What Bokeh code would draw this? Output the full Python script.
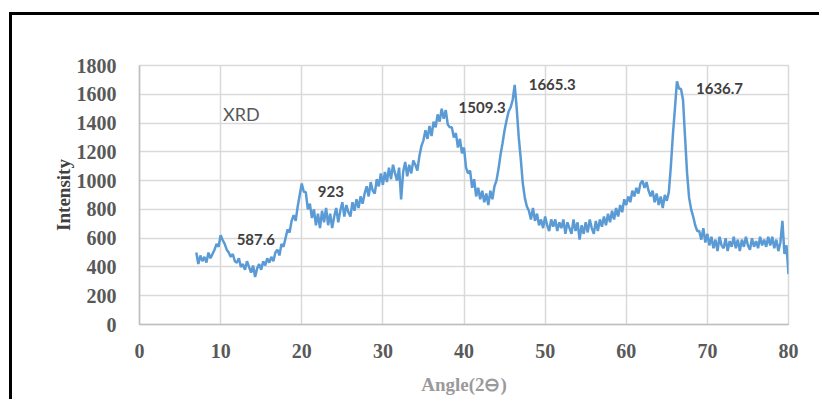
import numpy as np
from bokeh.plotting import figure
from bokeh.models import ColumnDataSource, Label, FixedTicker
from bokeh.core.properties import value
from bokeh.embed import file_html
from bokeh.resources import INLINE

# Diffraction angle grid (2-theta, degrees) and measured intensity
angle_start, angle_stop, angle_step = 7.0, 80.0, 0.25
intensity = [
    500, 420, 480, 440,      # 7
    470, 430, 500, 460,      # 8
    490, 520, 560, 540,      # 9
    620, 587.6, 560, 520,    # 10
    500, 470, 490, 440,      # 11
    430, 460, 400, 420,      # 12
    380, 440, 400, 360,      # 13
    410, 330, 390, 420,      # 14
    380, 440, 410, 460,      # 15
    430, 470, 440, 500,      # 16
    520, 480, 560, 540,      # 17
    600, 660, 640, 720,      # 18
    760, 720, 820, 900,      # 19
    980, 923, 920, 800,      # 20
    840, 740, 800, 690,      # 21
    770, 670, 790, 710,      # 22
    810, 690, 770, 670,      # 23
    750, 810, 710, 790,      # 24
    850, 750, 830, 780,      # 25
    750, 850, 790, 870,      # 26
    810, 890, 840, 910,      # 27
    960, 890, 990, 930,      # 28
    910, 1010, 960, 1050,    # 29
    970, 1060, 990, 1090,    # 30
    1010, 1110, 1050, 1000,  # 31
    1090, 870, 1060, 1130,   # 32
    1030, 1110, 1050, 1140,  # 33
    1110, 1070, 1170, 1240,  # 34
    1280, 1350, 1290, 1380,  # 35
    1310, 1410, 1370, 1460,  # 36
    1410, 1500, 1430, 1490,  # 37
    1390, 1370, 1370, 1300,  # 38
    1330, 1230, 1290, 1190,  # 39
    1230, 1090, 1050, 1070,  # 40
    950, 1010, 890, 950,     # 41
    870, 930, 850, 910,      # 42
    830, 930, 870, 960,      # 43
    1000, 1080, 1180, 1260,  # 44
    1350, 1420, 1480, 1509.3,  # 45
    1560, 1665.3, 1500, 1300,  # 46
    1150, 980, 880, 820,     # 47
    790, 730, 810, 720,      # 48
    770, 690, 730, 670,      # 49
    750, 690, 650, 730,      # 50
    680, 730, 650, 710,      # 51
    670, 730, 630, 710,      # 52
    670, 630, 730, 650,      # 53
    710, 590, 690, 630,      # 54
    710, 640, 730, 670,      # 55
    630, 720, 650, 730,      # 56
    680, 750, 690, 770,      # 57
    710, 790, 730, 810,      # 58
    750, 830, 780, 870,      # 59
    830, 890, 850, 930,      # 60
    890, 950, 910, 980,      # 61
    1000, 950, 990, 930,     # 62
    890, 930, 850, 910,      # 63
    830, 890, 810, 900,      # 64
    860, 920, 1100, 1320,    # 65
    1500, 1690, 1640, 1636.7,  # 66
    1560, 1300, 1050, 880,   # 67
    800, 750, 690, 650,      # 68
    650, 590, 670, 570,      # 69
    630, 550, 610, 530,      # 70
    590, 510, 610, 550,      # 71
    530, 600, 510, 580,      # 72
    540, 610, 530, 590,      # 73
    510, 590, 540, 610,      # 74
    550, 520, 600, 540,      # 75
    580, 530, 610, 550,      # 76
    590, 540, 610, 550,      # 77
    610, 530, 590, 510,      # 78
    570, 720, 490, 550,      # 79
    350,                     # 80
]
angle = np.arange(angle_start, angle_stop + angle_step / 2, angle_step)

# Peak labels: anchored at a data point, text states that point's value
peak_angle = [10.25, 20.25, 45.75, 46.25, 66.75]
peak_text = ["587.6", "923", "1509.3", "1665.3", "1636.7"]

x_ticks = [0, 10, 20, 30, 40, 50, 60, 70, 80]
y_ticks = [0, 200, 400, 600, 800, 1000, 1200, 1400, 1600, 1800]

peak_value = [intensity[int(round((a - angle_start) / angle_step))] for a in peak_angle]

# The canvas sits inside a black top/left frame line
p = figure(width=810, height=387, output_backend="svg", toolbar_location=None,
           x_range=(0, 80), y_range=(0, 1800))
p.margin = (12, 0, 0, 9)
p.styles = {"border-left": "3px solid black", "border-top": "3px solid black"}
p.min_border_left = 127
p.min_border_right = 34
p.min_border_top = 50
p.min_border_bottom = 78
p.background_fill_color = "white"
p.border_fill_color = "white"
p.outline_line_color = "#d9d9d9"
p.outline_line_width = 1.5

p.xgrid.grid_line_color = "#d9d9d9"
p.ygrid.grid_line_color = "#d9d9d9"
p.xgrid.grid_line_width = 1.5
p.ygrid.grid_line_width = 1.5
p.xaxis.ticker = FixedTicker(ticks=x_ticks)
p.yaxis.ticker = FixedTicker(ticks=y_ticks)

for ax in (p.xaxis, p.yaxis):
    ax.axis_line_color = "#bfbfbf"
    ax.axis_line_width = 1.5
    ax.major_tick_line_color = None
    ax.minor_tick_line_color = None
    ax.major_label_text_font = "Liberation Serif"
    ax.major_label_text_font_style = "bold"
    ax.major_label_text_font_size = "20px"
    ax.major_label_text_color = "#595959"
    ax.axis_label_text_font = "Liberation Serif"
    ax.axis_label_text_font_style = "bold"
    ax.axis_label_text_font_size = "19px"

p.xaxis.major_label_standoff = 13
p.yaxis.major_label_standoff = 17
p.xaxis.axis_label = "Angle(2\u2296)"
p.xaxis.axis_label_text_color = "#9a9a9a"
p.xaxis.axis_label_standoff = 13
p.yaxis.axis_label = "Intensity"
p.yaxis.axis_label_text_color = "#404040"
p.yaxis.axis_label_standoff = 0

src = ColumnDataSource(dict(angle=angle, intensity=intensity))
p.line("angle", "intensity", source=src, line_color="#5b9bd5", line_width=2.5)

lab = ColumnDataSource(dict(
    x=peak_angle, y=peak_value, text=peak_text,
    align=["left", "left", "right", "left", "left"],
    dx=[14, 14, -5, 14, 15],
))
p.text("x", "y", text="text", source=lab, x_offset="dx", text_align="align",
       text_baseline="middle", text_font=value("Lato"), text_font_style="bold",
       text_font_size="15px", text_color="#404040")

p.add_layout(Label(x=10.3, y=1465, text="XRD", text_font="Lato",
                   text_font_size="18px", text_color="#595959",
                   text_baseline="middle"))

open("out.html", "w").write(file_html(p, INLINE))
